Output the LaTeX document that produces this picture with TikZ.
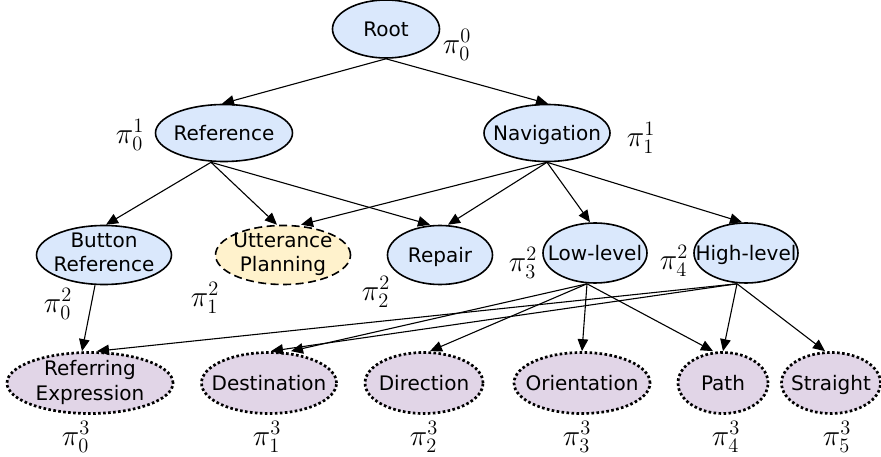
\documentclass[tikz,border=0pt]{standalone}
\usepackage{graphicx}
\usepackage{fontspec}
\setmainfont{DejaVu Sans}
\usetikzlibrary{shapes.geometric,arrows.meta}
\definecolor{bluef}{HTML}{DAE8FC}
\definecolor{yellowf}{HTML}{FFF2CC}
\definecolor{purplef}{HTML}{E1D5E7}
\newcommand{\pilab}[2]{\scalebox{1.42}{$\pi_{#1}^{#2}$}}
\newcommand{\tx}[2][-7.2pt]{\makebox[0pt]{\raisebox{#1}[0pt][0pt]{\begin{tabular}[b]{@{}c@{}}#2\end{tabular}}}}
\tikzset{
  nd/.style={ellipse,draw=black,line width=1.6pt,inner sep=0pt,
    font=\fontsize{20}{25}\selectfont},
  bl/.style={nd,fill=bluef},
  yl/.style={nd,fill=yellowf,dash pattern=on 8pt off 4.5pt},
  pu/.style={nd,fill=purplef,line width=2.7pt,dash pattern=on 2.6pt off 2.4pt},
  lab/.style={font=\fontsize{20}{22}\selectfont,inner sep=0pt},
  ar/.style={-{Triangle[length=12pt,width=10.5pt]},line width=1.1pt},
}
\begin{document}
\begin{tikzpicture}[x=1pt,y=-1pt]
\useasboundingbox (0,0) rectangle (881,457);
% level 0
\node[bl,minimum width=107pt,minimum height=58pt] (root) at (386,29) {\tx{Root}};
% level 1
\node[bl,minimum width=137pt,minimum height=57pt] (ref) at (224,133) {\tx{Reference}};
\node[bl,minimum width=126pt,minimum height=57pt] (nav) at (547,133) {\tx{Navigation}};
% level 2
\node[bl,minimum width=135pt,minimum height=59pt] (btn) at (104,255) {\tx[-17pt]{Button\\Reference}};
\node[yl,minimum width=135pt,minimum height=59pt] (utt) at (283,255) {\tx[-17pt]{Utterance\\Planning}};
\node[bl,minimum width=105pt,minimum height=59pt] (rep) at (440,255) {\tx{Repair}};
\node[bl,minimum width=104pt,minimum height=60pt] (low) at (595,253) {\tx{Low-level}};
\node[bl,minimum width=104pt,minimum height=60pt] (high) at (746,253) {\tx{High-level}};
% level 3
\node[pu,minimum width=166pt,minimum height=61pt] (rex) at (90,383) {\tx[-17pt]{Referring\\Expression}};
\node[pu,minimum width=135pt,minimum height=61pt] (dst) at (269,383) {\tx{Destination}};
\node[pu,minimum width=118pt,minimum height=61pt] (dir) at (424,383) {\tx{Direction}};
\node[pu,minimum width=136pt,minimum height=61pt] (ori) at (582,383) {\tx{Orientation}};
\node[pu,minimum width=90pt,minimum height=61pt] (pth) at (723,383) {\tx{Path}};
\node[pu,minimum width=99pt,minimum height=61pt] (str) at (831,383) {\tx{Straight}};
% labels
\node[lab] (l00) at (457,45) {\pilab{0}{0}};
\node[lab] (l01) at (130,135) {\pilab{0}{1}};
\node[lab] (l11) at (641,138) {\pilab{1}{1}};
\node[lab] (l02) at (58,304) {\pilab{0}{2}};
\node[lab] (l12) at (205,298) {\pilab{1}{2}};
\node[lab] (l22) at (376,292) {\pilab{2}{2}};
\node[lab] (l32) at (523,263) {\pilab{3}{2}};
\node[lab] (l42) at (674,261) {\pilab{4}{2}};
\node[lab] (l03) at (76,437) {\pilab{0}{3}};
\node[lab] (l13) at (267,437) {\pilab{1}{3}};
\node[lab] (l23) at (424,437) {\pilab{2}{3}};
\node[lab] (l33) at (577,437) {\pilab{3}{3}};
\node[lab] (l43) at (726,437) {\pilab{4}{3}};
\node[lab] (l53) at (837,437) {\pilab{5}{3}};
% edges
\draw[ar] (root.south) -- ([xshift=-2pt]ref.north);
\draw[ar] (root.south) -- ([xshift=1pt]nav.north);
\draw[ar] ([xshift=-13pt]ref.south) -- ([xshift=2pt]btn.north);
\draw[ar] ([xshift=-13pt]ref.south) -- ([xshift=-6pt]utt.north);
\draw[ar] ([xshift=-13pt]ref.south) -- ([xshift=-10pt]rep.north);
\draw[ar] (nav.south) -- ([xshift=18pt]utt.north);
\draw[ar] (nav.south) -- ([xshift=8pt]rep.north);
\draw[ar] (nav.south) -- ([xshift=-5pt]low.north);
\draw[ar] (nav.south) -- ([xshift=-4pt]high.north);
\draw[ar] ([xshift=-9pt]btn.south) -- ([xshift=-8pt]rex.north);
\draw[ar] ([xshift=-8pt]low.south) -- ([xshift=22pt]dst.north);
\draw[ar] ([xshift=-8pt]low.south) -- ([xshift=6pt]dir.north);
\draw[ar] ([xshift=-8pt]low.south) -- (ori.north);
\draw[ar] ([xshift=-8pt]low.south) -- ([xshift=-10pt]pth.north);
\draw[ar] ([xshift=-9pt]high.south) -- ([xshift=7pt]rex.north);
\draw[ar] ([xshift=-9pt]high.south) -- ([xshift=2pt]dst.north);
\draw[ar] ([xshift=-9pt]high.south) -- (pth.north);
\draw[ar] ([xshift=-9pt]high.south) -- ([xshift=-6pt]str.north);
\end{tikzpicture}
\end{document}
